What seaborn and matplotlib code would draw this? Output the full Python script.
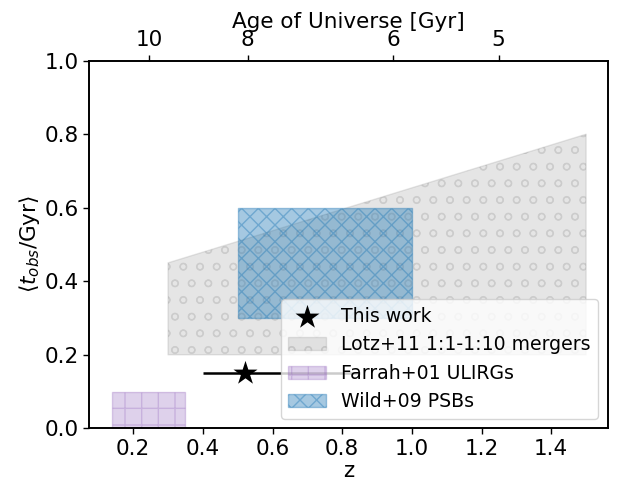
import numpy as np
import pandas as pd
import seaborn as sns
import matplotlib
matplotlib.use("Agg")
import matplotlib.pyplot as plt

# -- data
this_z = [0.52]
this_t = [0.15]
this_z_lo = [0.40]
this_z_hi = [0.85]

lotz_z = [0.30, 1.50]
lotz_lo = [0.20, 0.20]
lotz_hi = [0.45, 0.80]

farrah_z = [0.14, 0.35]
farrah_lo = [0.0, 0.0]
farrah_hi = [0.10, 0.10]

wild_z = [0.50, 1.00]
wild_lo = [0.30, 0.30]
wild_hi = [0.60, 0.60]

# top axis: age of universe at those redshifts
age_labels = ['10', '8', '6', '5']
age_tick_z = [0.246, 0.529, 0.946, 1.249]

sns.set_theme(style="ticks")
plt.rcParams['font.family'] = ['DejaVu Sans']
plt.rcParams['axes.edgecolor'] = 'black'
plt.rcParams['xtick.color'] = 'black'
plt.rcParams['ytick.color'] = 'black'
plt.rcParams['text.color'] = 'black'
plt.rcParams['axes.labelcolor'] = 'black'

fs = 15.5

fig, ax = plt.subplots(figsize=(6.21, 4.83), dpi=100)
fig.subplots_adjust(left=0.1438, right=0.9786, top=0.8743, bottom=0.1133)

df = pd.DataFrame({'z': this_z, 't': this_t})
ax.errorbar(this_z, this_t,
            xerr=[[this_z[0] - this_z_lo[0]], [this_z_hi[0] - this_z[0]]],
            fmt='none', ecolor='black', elinewidth=1.8, zorder=3)
sns.scatterplot(data=df, x='z', y='t', marker='*', s=330, color='black',
                edgecolor='black', linewidth=0, ax=ax, label='This work', zorder=4)

ax.fill_between(lotz_z, lotz_lo, lotz_hi, color='grey', alpha=0.2, hatch='o',
                label='Lotz+11 1:1-1:10 mergers')
ax.fill_between(farrah_z, farrah_lo, farrah_hi, color='#9467bd', alpha=0.3, hatch='+',
                label='Farrah+01 ULIRGs')
ax.fill_between(wild_z, wild_lo, wild_hi, color='#1f77b4', alpha=0.4, hatch='xx',
                label='Wild+09 PSBs')

ax.set_xlim(0.074, 1.562)
ax.set_ylim(0, 1)
ax.set_xticks(np.arange(0.2, 1.41, 0.2))
ax.set_xticklabels(['0.2', '0.4', '0.6', '0.8', '1.0', '1.2', '1.4'])
ax.set_yticks(np.arange(0, 1.01, 0.2))
ax.set_yticklabels(['0.0', '0.2', '0.4', '0.6', '0.8', '1.0'])
ax.tick_params(labelsize=fs, length=4, width=1)
ax.set_xlabel('z', fontsize=fs, labelpad=2)
ax.set_ylabel(r'$\langle t_{obs}/\mathrm{Gyr}\rangle$', fontsize=fs, labelpad=2)

leg = ax.legend(loc='lower right', fontsize=13.6, framealpha=0.8,
                labelspacing=0.5)

ax2 = ax.twiny()
ax2.set_xlim(ax.get_xlim())
ax2.set_xticks(age_tick_z)
ax2.set_xticklabels(age_labels)
ax2.tick_params(labelsize=fs, length=4, width=1)
ax2.set_xlabel('Age of Universe [Gyr]', fontsize=fs, labelpad=2)

for a in (ax, ax2):
    for s in a.spines.values():
        s.set_linewidth(1.2)

plt.savefig('out.png', dpi=100)
